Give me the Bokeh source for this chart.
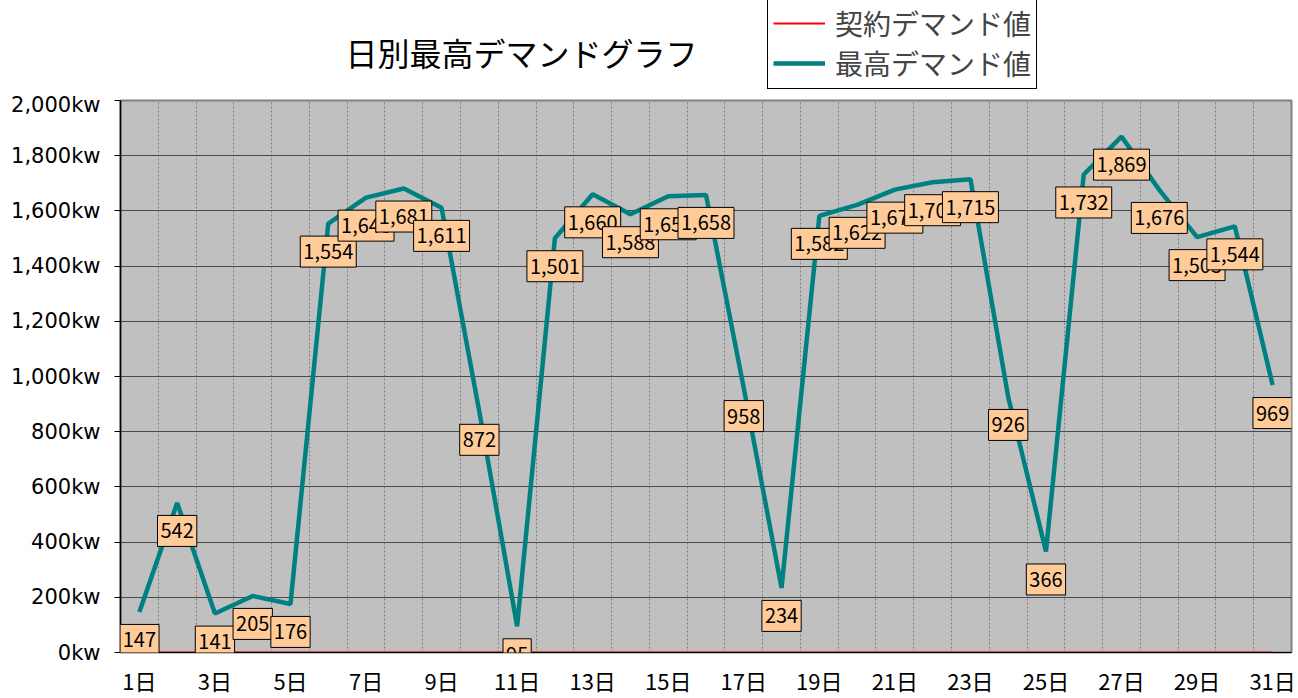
from bokeh.plotting import figure
from bokeh.layouts import column
from bokeh.models import Label, Legend, LegendItem, FixedTicker, Range1d
from bokeh.embed import file_html
from bokeh.resources import INLINE

# ---- data ----
days = [1, 2, 3, 4, 5, 6, 7, 8, 9, 10, 11, 12, 13, 14, 15, 16,
        17, 18, 19, 20, 21, 22, 23, 24, 25, 26, 27, 28, 29, 30, 31]
max_demand = [147, 542, 141, 205, 176, 1554, 1648, 1681, 1611, 872, 95,
              1501, 1660, 1588, 1653, 1658, 958, 234, 1582, 1622, 1677,
              1704, 1715, 926, 366, 1732, 1869, 1676, 1505, 1544, 969]
contract_demand = [0, 0, 0, 0, 0, 0, 0, 0, 0, 0, 0, 0, 0, 0, 0, 0,
                   0, 0, 0, 0, 0, 0, 0, 0, 0, 0, 0, 0, 0, 0, 0]
x_tick_days = [1, 3, 5, 7, 9, 11, 13, 15, 17, 19, 21, 23, 25, 27, 29, 31]
x_tick_labels = ["1日", "3日", "5日", "7日", "9日", "11日", "13日", "15日",
                 "17日", "19日", "21日", "23日", "25日", "27日", "29日", "31日"]
y_ticks = [0, 200, 400, 600, 800, 1000, 1200, 1400, 1600, 1800, 2000]
y_tick_labels = ["0kw", "200kw", "400kw", "600kw", "800kw", "1,000kw",
                 "1,200kw", "1,400kw", "1,600kw", "1,800kw", "2,000kw"]
title_text = "日別最高デマンドグラフ"
series_names = ["契約デマンド値", "最高デマンド値"]

JP = "Noto Sans CJK JP"
RED = "#FF0000"
TEAL = "#008080"

W = 1298
TOP_H = 92
FRAME_LEFT = 120

# ---- header figure: title + legend (frame is aligned with main frame) ----
top = figure(width=W, height=TOP_H, output_backend="svg", toolbar_location=None,
             x_range=Range1d(-200, -100), y_range=Range1d(-200, -100),
             x_axis_type=None, y_axis_type=None,
             min_border_left=FRAME_LEFT, min_border_right=7, min_border_top=0,
             min_border_bottom=0)
top.outline_line_color = None
top.grid.visible = False
top.background_fill_color = "white"
top.border_fill_color = "white"

top.add_layout(Label(x=521 - FRAME_LEFT, y=TOP_H - 51, x_units="screen", y_units="screen",
                     text=title_text, text_align="center", text_baseline="middle",
                     text_font=JP, text_font_size="32px", text_color="black"))

# series renderers in the header only feed the legend (ranges keep them out of view)
lr_contract = top.line(days, contract_demand, line_color=RED, line_width=2)
lr_demand = top.line(days, max_demand, line_color=TEAL, line_width=4.5)
legend = Legend(items=[LegendItem(label=series_names[0], renderers=[lr_contract]),
                       LegendItem(label=series_names[1], renderers=[lr_demand])],
                location=(767 - FRAME_LEFT, 3), orientation="vertical")
legend.label_text_font = JP
legend.label_text_font_size = "28px"
legend.label_height = 34
legend.glyph_height = 34
legend.glyph_width = 52
legend.label_standoff = 10
legend.spacing = 0
legend.padding = 5
legend.margin = 0
legend.border_line_color = "black"
legend.border_line_width = 1.5
legend.border_line_alpha = 1
legend.background_fill_color = "white"
legend.background_fill_alpha = 1
top.add_layout(legend)

# ---- main chart ----
p = figure(width=W, height=698 - TOP_H, output_backend="svg", toolbar_location=None,
           x_range=Range1d(0.5, 31.5), y_range=Range1d(0, 2000),
           min_border_left=FRAME_LEFT, min_border_right=7, min_border_top=8,
           min_border_bottom=45)
p.background_fill_color = "#C0C0C0"
p.border_fill_color = "white"
p.outline_line_color = "#808080"
p.outline_line_width = 2

p.ygrid.ticker = FixedTicker(ticks=y_ticks)
p.ygrid.grid_line_color = "#4a4a4a"
p.ygrid.grid_line_width = 1
p.xgrid.ticker = FixedTicker(ticks=[d + 0.5 for d in days[:-1]])
p.xgrid.grid_line_color = "#808080"
p.xgrid.grid_line_dash = "2 2"
p.xgrid.grid_line_width = 1

p.xaxis.ticker = FixedTicker(ticks=x_tick_days)
p.xaxis.major_label_overrides = {d: l for d, l in zip(x_tick_days, x_tick_labels)}
p.xaxis.major_tick_line_color = None
p.xaxis.major_tick_out = 0
p.xaxis.major_tick_in = 0
p.xaxis.minor_tick_line_color = None
p.xaxis.axis_line_color = "black"
p.xaxis.major_label_text_font = JP
p.xaxis.major_label_text_font_size = "22px"
p.xaxis.major_label_text_color = "black"
p.xaxis.major_label_standoff = 11

p.yaxis.ticker = FixedTicker(ticks=y_ticks)
p.yaxis.major_label_overrides = {t: l for t, l in zip(y_ticks, y_tick_labels)}
p.yaxis.major_tick_out = 6
p.yaxis.major_tick_in = 0
p.yaxis.minor_tick_line_color = None
p.yaxis.axis_line_color = "black"
p.yaxis.axis_line_width = 1.5
p.yaxis.major_label_text_font = "DejaVu Sans"
p.yaxis.major_label_text_font_size = "21px"
p.yaxis.major_label_text_color = "black"
p.yaxis.major_label_standoff = 14

r_contract = p.line(days, contract_demand, line_color=RED, line_width=2)
r_demand = p.line(days, max_demand, line_color=TEAL, line_width=4.5)

pad = {"left": 3, "right": 3, "top": 8, "bottom": 8}
for d, v in zip(days, max_demand):
    txt = f"{v:,}"
    p.add_layout(Label(x=d, y=v, text=txt, x_offset=2, y_offset=-30,
                       text_align="center", text_baseline="middle",
                       text_font=JP, text_font_size="20px", text_alpha=0,
                       padding=pad, background_fill_color="#404040",
                       background_fill_alpha=0.8))
    p.add_layout(Label(x=d, y=v, text=txt, y_offset=-28,
                       text_align="center", text_baseline="middle",
                       text_font=JP, text_font_size="20px", text_color="black",
                       padding=pad, background_fill_color="#FFCC99",
                       border_line_color="black", border_line_width=1))

layout = column(top, p, spacing=0)
open("out.html", "w").write(file_html(layout, INLINE))
